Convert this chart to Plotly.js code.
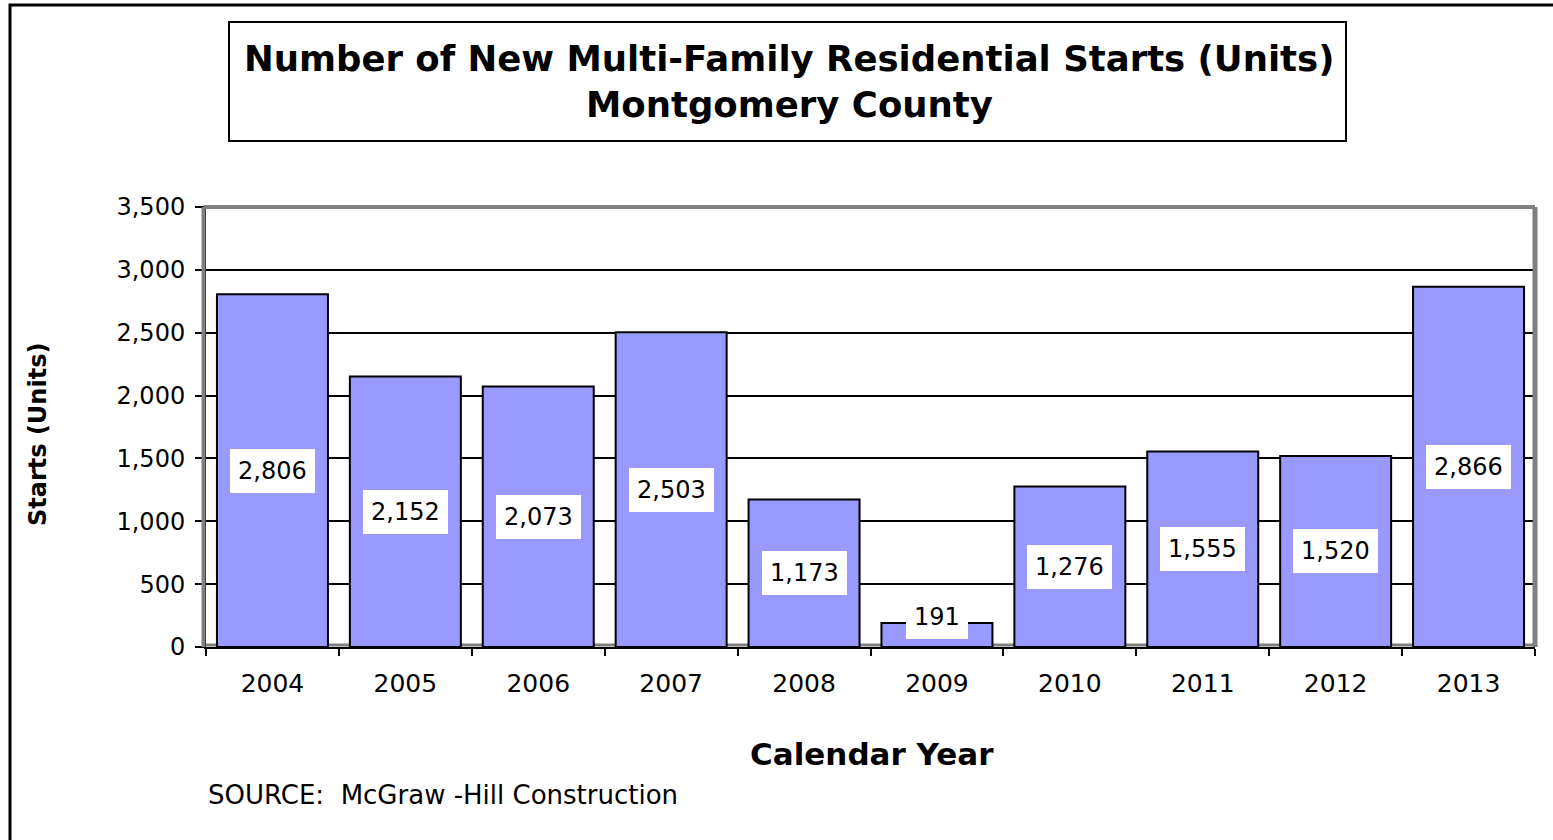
<!DOCTYPE html>
<html>
<head>
<meta charset="utf-8">
<script src="https://cdn.plot.ly/plotly-3.0.1.min.js"></script>
<style>html,body{margin:0;padding:0;background:#fff;}#chart{width:1553px;height:840px;}</style>
</head>
<body>
<div id="chart"></div>
<script>
const years = ['2004','2005','2006','2007','2008','2009','2010','2011','2012','2013'];
const starts = [2806, 2152, 2073, 2503, 1173, 191, 1276, 1555, 1520, 2866];
const yTickVals = [0, 500, 1000, 1500, 2000, 2500, 3000, 3500];
const yTickText = ['0', '500', '1,000', '1,500', '2,000', '2,500', '3,000', '3,500'];
const titleLine1 = 'Number of New Multi-Family Residential Starts (Units)';
const titleLine2 = 'Montgomery County';
const xTitle = 'Calendar Year';
const yTitle = 'Starts (Units)';
const sourceText = 'SOURCE:  McGraw -Hill Construction';

const W = 1553, H = 840;
const M = {l: 206, r: 18, t: 207, b: 193};
const PW = W - M.l - M.r, PH = H - M.t - M.b;
const px = x => (x - M.l) / PW;
const py = y => (H - M.b - y) / PH;

const REG = 'DejaVu Sans, Arial, sans-serif';
const BOLD = 'DejaVu Sans, Arial, sans-serif';

const fmt = v => v.toLocaleString('en-US');

const labelAnns = years.map((yr, i) => ({
  x: i, y: starts[i] / 2, xref: 'x', yref: 'y',
  text: fmt(starts[i]), showarrow: false,
  font: {family: REG, size: 24, color: '#000'},
  bgcolor: '#ffffff', borderpad: 8, borderwidth: 0,
  yshift: starts[i] < 500 ? 18 : 0
}));

const data = [{
  type: 'bar', x: years, y: starts,
  marker: {color: '#9999FF', line: {color: '#000', width: 2}},
  hoverinfo: 'x+y'
}];

const layout = {
  width: W, height: H,
  margin: M,
  paper_bgcolor: '#fff', plot_bgcolor: '#fff',
  bargap: 0.165,
  showlegend: false,
  font: {family: REG, color: '#000'},
  xaxis: {
    type: 'category', range: [-0.5, 9.5], tickson: 'boundaries', ticks: 'outside', ticklen: 7, tickwidth: 2, tickcolor: '#000',
    showline: true, linecolor: '#000', linewidth: 2,
    tickfont: {family: REG, size: 25}, ticklabelstandoff: 13,
    showgrid: false, zeroline: false
  },
  yaxis: {
    range: [0, 3500], tickvals: yTickVals, ticktext: yTickText,
    ticks: 'outside', ticklen: 9, tickwidth: 2, tickcolor: '#000',
    showline: true, linecolor: '#000', linewidth: 2,
    showgrid: true, gridcolor: '#000', gridwidth: 2,
    tickfont: {family: REG, size: 24}, ticklabelstandoff: 5, zeroline: false
  },
  shapes: [
    {type: 'rect', xref: 'paper', yref: 'paper', x0: px(10), x1: px(1570), y0: py(5), y1: py(860),
     line: {color: '#000', width: 3}, fillcolor: 'rgba(0,0,0,0)', layer: 'below'},
    {type: 'rect', xref: 'paper', yref: 'paper', x0: px(229), x1: px(1346), y0: py(141), y1: py(22),
     line: {color: '#000', width: 2}, fillcolor: '#fff', layer: 'below'},
    {type: 'line', xref: 'paper', yref: 'paper', x0: px(204), x1: 1, y0: 1, y1: 1, line: {color: '#808080', width: 4}},
    {type: 'line', xref: 'paper', yref: 'paper', x0: 1, x1: 1, y0: 0, y1: 1, line: {color: '#808080', width: 5}},
    {type: 'line', xref: 'paper', yref: 'paper', x0: px(203.5), x1: px(203.5), y0: 0, y1: 1, line: {color: '#808080', width: 4}},
    {type: 'line', xref: 'paper', yref: 'paper', x0: 0, x1: 1, y0: py(645), y1: py(645), line: {color: '#808080', width: 3}, layer: 'below'}
  ],
  annotations: [
    {text: '<b>' + titleLine1 + '</b>', xref: 'paper', yref: 'paper', x: px(789), y: py(58), xanchor: 'center', yanchor: 'middle',
     showarrow: false, font: {family: BOLD, size: 35.5, color: '#000'}},
    {text: '<b>' + titleLine2 + '</b>', xref: 'paper', yref: 'paper', x: px(789), y: py(105), xanchor: 'center', yanchor: 'middle',
     showarrow: false, font: {family: BOLD, size: 35.5, color: '#000'}},
    {text: '<b>' + xTitle + '</b>', xref: 'paper', yref: 'paper', x: px(872), y: py(754), xanchor: 'center', yanchor: 'middle',
     showarrow: false, font: {family: BOLD, size: 31, color: '#000'}},
    {text: '<b>' + yTitle + '</b>', xref: 'paper', yref: 'paper', x: px(38), y: py(435), xanchor: 'center', yanchor: 'middle',
     showarrow: false, textangle: -90, font: {family: BOLD, size: 24, color: '#000'}},
    {text: sourceText, xref: 'paper', yref: 'paper', x: px(206), y: py(795), xanchor: 'left', yanchor: 'middle',
     showarrow: false, font: {family: REG, size: 26, color: '#000'}}
  ].concat(labelAnns)
};

Plotly.newPlot('chart', data, layout, {displayModeBar: false, staticPlot: true});
</script>
</body>
</html>
